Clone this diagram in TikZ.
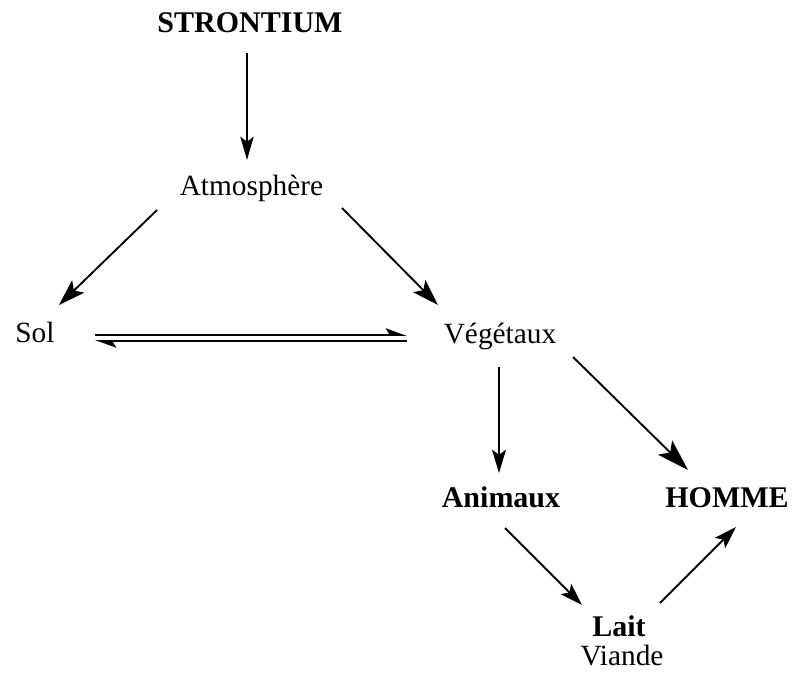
\documentclass[tikz,border=0pt]{standalone}
\usepackage{fontspec}
\setmainfont{Liberation Serif}
\usetikzlibrary{arrows.meta}
\begin{document}
\begin{tikzpicture}[x=0.75pt,y=-0.75pt,
  lbl/.style={anchor=base,inner sep=0pt,font=\fontsize{22}{26}\selectfont},
  blbl/.style={lbl,font=\fontsize{22.5}{26}\selectfont\bfseries},
  arrw/.style 2 args={line width=1.4pt,-{Stealth[length=#1,width=#2,inset=0.22*#1]}},
  harp/.style={line width=1.4pt,-{Stealth[harpoon,length=14pt,width=10pt,inset=3pt]}}]
\useasboundingbox (0,0) rectangle (808,687);
\node[blbl] (str) at (250,32) {STRONTIUM};
\node[lbl] (atm) at (251.5,195) {Atmosphère};
\node[lbl] (sol) at (35,342) {Sol};
\node[lbl] (veg) at (500,343) {Végétaux};
\node[blbl] (ani) at (501,507) {Animaux};
\node[blbl] (hom) at (727,507) {HOMME};
\node[blbl] (lait) at (619,636) {Lait};
\node[lbl] (viande) at (622,665) {Viande};
\draw[arrw={17.5pt}{10pt}] ([shift={(-3,21)}]str.base) -- ([shift={(-4.5,-35)}]atm.base);
\draw[arrw={20pt}{13pt}] ([shift={(-94.5,15)}]atm.base) -- ([shift={(24,-37)}]sol.base);
\draw[arrw={20pt}{13pt}] ([shift={(90.5,13)}]atm.base) -- ([shift={(-62,-38)}]veg.base);
\draw[harp] ([shift={(60,-7)}]sol.base) -- ([shift={(-93,-8)}]veg.base);
\draw[harp] ([shift={(-93,-2)}]veg.base) -- ([shift={(60,-1)}]sol.base);
\draw[arrw={17.5pt}{10.5pt}] ([shift={(-1,24)}]veg.base) -- ([shift={(-2,-34)}]ani.base);
\draw[arrw={24pt}{15pt}] ([shift={(73,14)}]veg.base) -- ([shift={(-39,-37)}]hom.base);
\draw[arrw={17pt}{11pt}] ([shift={(4,21)}]ani.base) -- ([shift={(-37,-31)}]lait.base);
\draw[arrw={17pt}{11pt}] ([shift={(41,-33)}]lait.base) -- ([shift={(9,20)}]hom.base);
\end{tikzpicture}
\end{document}
